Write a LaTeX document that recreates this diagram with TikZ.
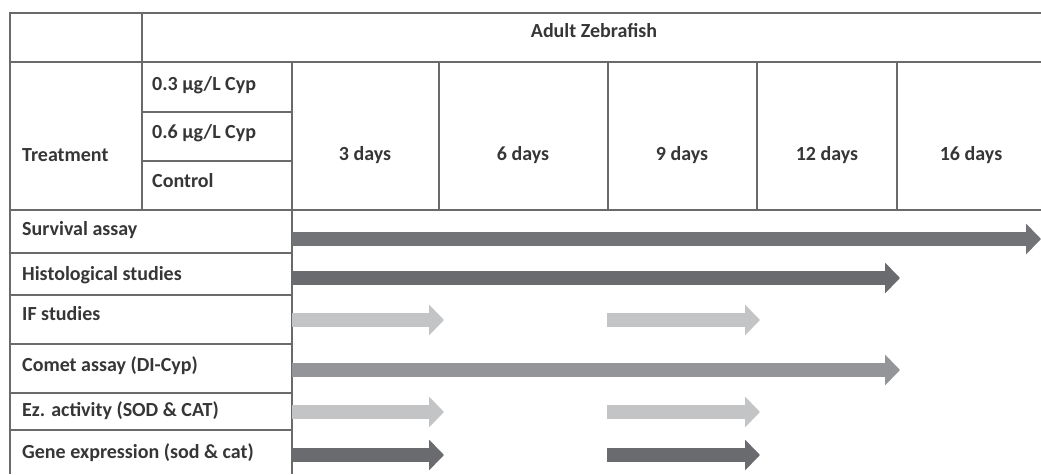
\documentclass[tikz,border=0pt]{standalone}
\usepackage{fontspec}
\setmainfont{Carlito}
\usepackage{tikz}
\usetikzlibrary{arrows.meta}
\definecolor{gridgray}{HTML}{6A6A6A}
\definecolor{txtgray}{HTML}{363636}
\definecolor{bardark}{HTML}{6A6B6E}
\definecolor{barsurv}{HTML}{727376}
\definecolor{barmid}{HTML}{939598}
\definecolor{barlight}{HTML}{C3C4C6}

\begin{document}
\begin{tikzpicture}[x=1pt, y=-1pt,
    grid/.style={draw=gridgray, line width=1.7pt},
    lbl/.style={anchor=base west, inner sep=0, text=txtgray, font=\fontsize{20}{23}\selectfont\bfseries},
    daylbl/.style={anchor=base, inner sep=0, text=txtgray, font=\fontsize{20}{23}\selectfont\bfseries},
    bar/.style={line width=14pt, -{Triangle[length=15pt, width=30pt]}}]
    \useasboundingbox (0,0) rectangle (1041,474);
    % table
    \draw[grid] (10,474) -- (10,13) -- (1041,13);
    \draw[grid] (10,62) -- (1041,62);
    \draw[grid] (10,210) -- (1041,210);
    \draw[grid] (142,13) -- (142,210);
    \draw[grid] (292,62) -- (292,474);
    \foreach \xx in {439,608,757,897}
        \draw[grid] (\xx,62) -- (\xx,210);
    \foreach \yy in {112,161}
        \draw[grid] (142,\yy) -- (292,\yy);
    \foreach \yy in {253,295,344,393,430}
        \draw[grid] (10,\yy) -- (292,\yy);
    % header
    \node[daylbl] (adult) at (594,37) {Adult Zebrafish};
    \node[lbl] (treat) at (22,161) {Treatment};
    \node[lbl] (dose3) at (152,90) {0.3 µg/L Cyp};
    \node[lbl] (dose6) at (152,138) {0.6 µg/L Cyp};
    \node[lbl] (ctrl) at (152,187) {Control};
    \node[daylbl] (day3) at (365,160) {3 days};
    \node[daylbl] (day6) at (523,160) {6 days};
    \node[daylbl] (day9) at (682,160) {9 days};
    \node[daylbl] (day12) at (827,160) {12 days};
    \node[daylbl] (day16) at (971,160) {16 days};
    % assays
    \node[lbl] (surv) at (22,235) {Survival assay};
    \node[lbl] (hist) at (22,280) {Histological studies};
    \node[lbl] (ifst) at (22,320) {IF studies};
    \node[lbl] (comet) at (22,371) {Comet assay (DI-Cyp)};
    \node[lbl] (ezact) at (22,416) {Ez. activity (SOD \& CAT)};
    \node[lbl] (gene) at (22,458) {Gene expression (sod \& cat)};
    % time bars
    \coordinate (survA) at (292,239);  \coordinate (survB) at (1041,239);
    \coordinate (histA) at (292,278);  \coordinate (histB) at (900,278);
    \coordinate (ifA) at (292,320);    \coordinate (ifB) at (444,320);
    \coordinate (ifC) at (607,320);    \coordinate (ifD) at (760,320);
    \coordinate (cometA) at (292,370); \coordinate (cometB) at (900,370);
    \coordinate (ezA) at (292,412);    \coordinate (ezB) at (444,412);
    \coordinate (ezC) at (607,412);    \coordinate (ezD) at (760,412);
    \coordinate (geneA) at (292,455);  \coordinate (geneB) at (444,455);
    \coordinate (geneC) at (607,455);  \coordinate (geneD) at (760,455);
    \draw[bar, draw=barsurv] (survA) -- (survB);
    \draw[bar, draw=bardark] (histA) -- (histB);
    \draw[bar, draw=barlight] (ifA) -- (ifB);
    \draw[bar, draw=barlight] (ifC) -- (ifD);
    \draw[bar, draw=barmid] (cometA) -- (cometB);
    \draw[bar, draw=barlight] (ezA) -- (ezB);
    \draw[bar, draw=barlight] (ezC) -- (ezD);
    \draw[bar, draw=bardark] (geneA) -- (geneB);
    \draw[bar, draw=bardark] (geneC) -- (geneD);
\end{tikzpicture}
\end{document}
